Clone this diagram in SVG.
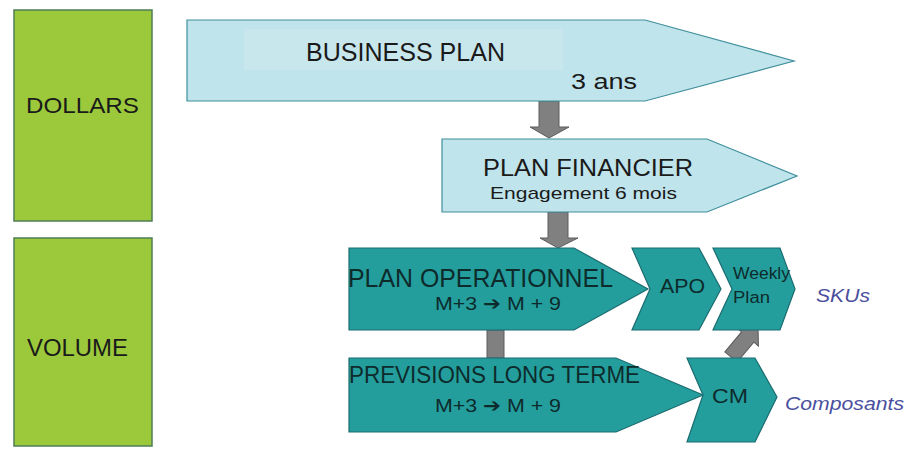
<svg xmlns="http://www.w3.org/2000/svg" width="906" height="450" viewBox="0 0 906 450">
<style>
.green{fill:#9cc93b;stroke:#4f7d55;stroke-width:1.5}
.light{fill:#c0e4eb;stroke:#3f8f9c;stroke-width:1.2}
.teal{fill:#239e9d;stroke:#1b6c70;stroke-width:1.2}
.gray{fill:#808080;stroke:#5c5c5c;stroke-width:1}
text{font-family:"Liberation Sans",Arial,sans-serif}
.dk{fill:#1a1a1a}
.tl{fill:#0e2b2c}
.blue{fill:#4a4f9e;font-style:italic}
.arr{font-family:"DejaVu Sans",sans-serif;font-weight:bold}
</style>
<rect width="906" height="450" fill="#ffffff"/>
<g id="dollars">
<rect class="green" x="14" y="10" width="138" height="211"/>
<text class="dk" x="26" y="113" font-size="22" textLength="113" lengthAdjust="spacingAndGlyphs">DOLLARS</text>
</g>
<g id="volume">
<rect class="green" x="14" y="238" width="138" height="208"/>
<text class="dk" x="27" y="356" font-size="23" textLength="101" lengthAdjust="spacingAndGlyphs">VOLUME</text>
</g>
<g id="connectors">
<polygon class="gray" points="539,101 559,101 559,127 569,127 549,138 530,127 539,127"/>
<polygon class="gray" points="548,212 568,212 568,238 578,238 558,248 540,238 548,238"/>
<rect class="gray" x="487" y="330" width="17" height="28"/>
<polygon class="gray" transform="translate(731,357) rotate(-50)" points="0,-8 26,-8 26,-14 42,0 26,14 26,8 0,8"/>
</g>
<g id="business-plan">
<polygon class="light" points="187,20 645,20 794,61 645,101 187,101"/>
<rect x="244" y="29" width="319" height="41" fill="#c8e7ed"/>
<text class="dk" x="306" y="61" font-size="25" textLength="199" lengthAdjust="spacingAndGlyphs">BUSINESS PLAN</text>
<text class="dk" x="571" y="89" font-size="22" textLength="66" lengthAdjust="spacingAndGlyphs">3 ans</text>
</g>
<g id="plan-financier">
<polygon class="light" points="442,139 707,139 797,176 707,212 442,212"/>
<text class="dk" x="483" y="176" font-size="24" textLength="210" lengthAdjust="spacingAndGlyphs">PLAN FINANCIER</text>
<text class="dk" x="490" y="199" font-size="17" textLength="187" lengthAdjust="spacingAndGlyphs">Engagement 6 mois</text>
</g>
<g id="plan-operationnel">
<polygon class="teal" points="349,248 574,248 648,289 574,330 349,330"/>
<text class="tl" x="348" y="287" font-size="25" textLength="265" lengthAdjust="spacingAndGlyphs">PLAN OPERATIONNEL</text>
<text class="tl" x="435" y="310" font-size="19" textLength="126" lengthAdjust="spacingAndGlyphs">M+3 <tspan class="arr">➔</tspan> M + 9</text>
</g>
<g id="apo">
<polygon class="teal" points="632,248 699,248 721,289 699,330 632,330 650,289"/>
<text class="tl" x="660" y="293" font-size="21" textLength="45" lengthAdjust="spacingAndGlyphs">APO</text>
</g>
<g id="weekly-plan">
<polygon class="teal" points="713,248 780,248 795,289 780,330 713,330 732,289"/>
<text class="tl" x="733" y="279" font-size="16" textLength="57" lengthAdjust="spacingAndGlyphs">Weekly</text>
<text class="tl" x="733" y="303" font-size="16" textLength="37" lengthAdjust="spacingAndGlyphs">Plan</text>
</g>
<g id="skus">
<text class="blue" x="816" y="302" font-size="19" textLength="54" lengthAdjust="spacingAndGlyphs">SKUs</text>
</g>
<g id="previsions">
<polygon class="teal" points="349,358 616,358 703,395 616,432 349,432"/>
<text class="tl" x="349" y="383" font-size="23" textLength="291" lengthAdjust="spacingAndGlyphs">PREVISIONS LONG TERME</text>
<text class="tl" x="435" y="412" font-size="19" textLength="126" lengthAdjust="spacingAndGlyphs">M+3 <tspan class="arr">➔</tspan> M + 9</text>
</g>
<g id="cm">
<polygon class="teal" points="687,358 755,358 777,397 755,442 687,442 703,395"/>
<text class="tl" x="712" y="403" font-size="21" textLength="36" lengthAdjust="spacingAndGlyphs">CM</text>
</g>
<g id="composants">
<text class="blue" x="785" y="410" font-size="18" textLength="119" lengthAdjust="spacingAndGlyphs">Composants</text>
</g>
</svg>
